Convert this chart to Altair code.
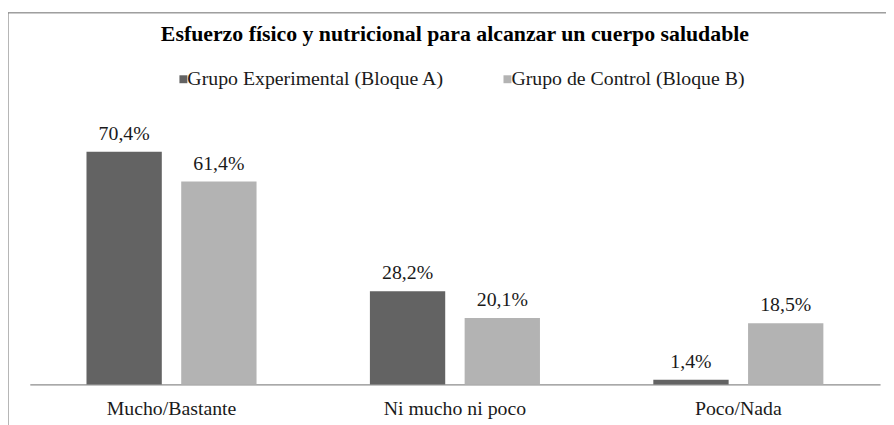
import altair as alt
import pandas as pd

categories = ["Mucho/Bastante", "Ni mucho ni poco", "Poco/Nada"]
groups = ["Grupo Experimental (Bloque A)", "Grupo de Control (Bloque B)"]
experimental = [70.4, 28.2, 1.4]
control = [61.4, 20.1, 18.5]
colors = ["#636363", "#b3b3b3"]

rows = []
for c, e, k in zip(categories, experimental, control):
    rows.append({"categoria": c, "grupo": groups[0], "valor": e})
    rows.append({"categoria": c, "grupo": groups[1], "valor": k})
df = pd.DataFrame(rows)

FONT = "Liberation Serif, Times New Roman, serif"

base = alt.Chart(df).transform_calculate(
    etiqueta="replace(format(datum.valor, '.1f'), '.', ',') + '%'"
).encode(
    x=alt.X(
        "categoria:N",
        sort=categories,
        scale=alt.Scale(paddingInner=0.4, paddingOuter=0.2),
        axis=alt.Axis(
            title=None, labelAngle=0, ticks=False, domainColor="#8c8c8c",
            domainWidth=1.2, labelFont=FONT, labelFontSize=20,
            labelColor="#1a1a1a", labelPadding=14, labelLimit=0,
        ),
    ),
    xOffset=alt.XOffset(
        "grupo:N", sort=groups, scale=alt.Scale(paddingInner=0.205, paddingOuter=0)
    ),
)

bars = base.mark_bar().encode(
    y=alt.Y("valor:Q", scale=alt.Scale(domain=[0, 80]), axis=None),
    color=alt.Color(
        "grupo:N",
        sort=groups,
        scale=alt.Scale(domain=groups, range=colors),
        legend=alt.Legend(
            orient="none", legendX=145, legendY=-51, direction="horizontal",
            title=None, symbolType="square", symbolSize=64, symbolStrokeWidth=0,
            labelFont=FONT, labelFontSize=20, labelColor="#1a1a1a",
            labelOffset=alt.ExprRef(expr="-6"), columnPadding=53,
            labelLimit=0, padding=0,
        ),
    ),
)

labels = base.mark_text(
    dy=-12, baseline="alphabetic", font=FONT, fontSize=20, color="#1a1a1a"
).encode(
    y=alt.Y("valor:Q", scale=alt.Scale(domain=[0, 80]), axis=None),
    text="etiqueta:N",
)

frame_df = pd.DataFrame({"k": [0]})
frame_left = alt.Chart(frame_df).mark_rule(color="#6b6b6b", strokeWidth=1).encode(
    x=alt.value(-22), y=alt.value(-108), y2=alt.value(330)
)
frame_top = alt.Chart(frame_df).mark_rule(color="#6b6b6b", strokeWidth=1).encode(
    x=alt.value(-22), x2=alt.value(900), y=alt.value(-108)
)

chart = alt.layer(frame_left, frame_top, bars, labels).properties(
    width=858,
    height=267,
    title=alt.TitleParams(
        "Esfuerzo físico y nutricional para alcanzar un cuerpo saludable",
        font=FONT, fontSize=22, fontWeight="bold", color="#000000",
        anchor="middle", frame="group", baseline="alphabetic", offset=-51,
    ),
    autosize=alt.AutoSizeParams(type="none"),
    padding={"left": 22, "top": 111, "right": 6, "bottom": 39},
).configure_view(stroke=None)

chart.save("out.html", embed_options={"renderer": "svg", "actions": False})
